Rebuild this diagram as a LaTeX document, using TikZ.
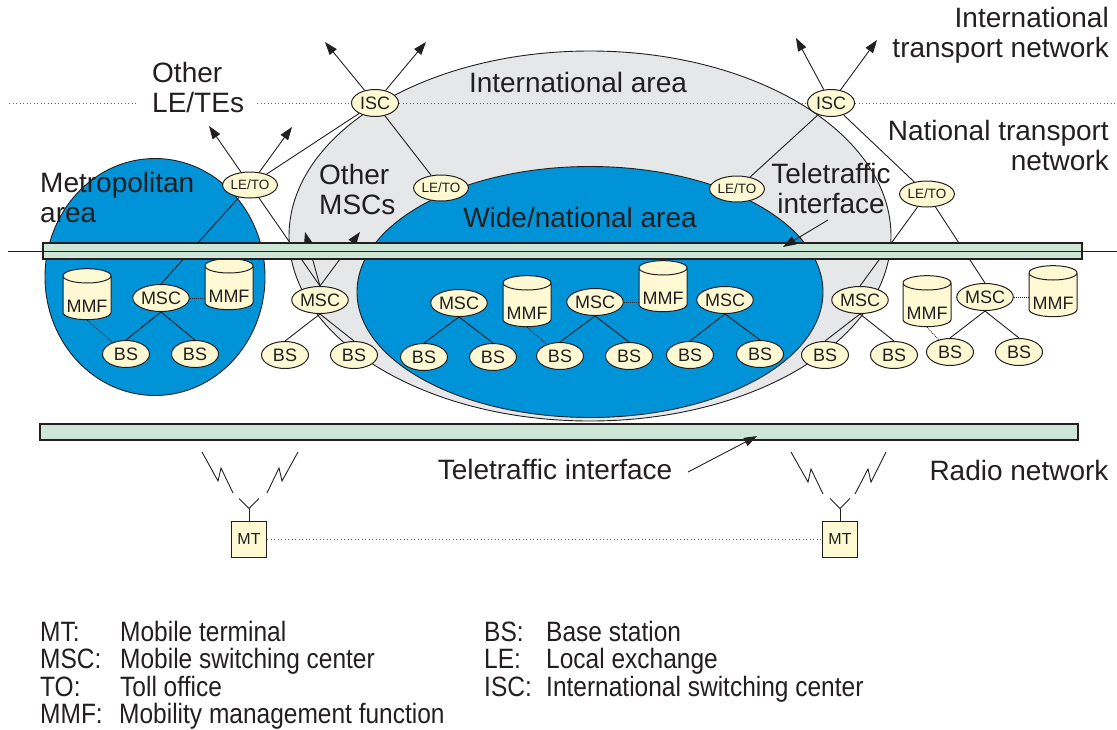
\documentclass[tikz,border=0pt]{standalone}
\usepackage{fontspec}
\setmainfont{Liberation Sans}
\newfontfamily\legendfont[FakeStretch=0.875]{Liberation Sans}
\usetikzlibrary{shapes.geometric,arrows.meta}
\definecolor{ink}{HTML}{231F20}
\definecolor{netblue}{HTML}{0093D7}
\definecolor{areagray}{HTML}{E6E7E8}
\definecolor{barfill}{HTML}{CDE6D5}
\definecolor{nodefill}{HTML}{FFF9D3}
\pgfdeclarelayer{areas}
\pgfdeclarelayer{wires}
\pgfsetlayers{areas,wires,main}
\begin{document}
\begin{tikzpicture}[x=1pt,y=-1pt,
  unit/.style={ellipse, draw=ink, fill=nodefill, line width=1pt, inner sep=0pt,
    minimum width=47pt, minimum height=27pt, text=ink,
    font=\fontsize{18}{18}\selectfont},
  exch/.style={unit, minimum width=48pt, minimum height=26pt,
    font=\fontsize{13.5}{13.5}\selectfont},
  store/.style={cylinder, shape border rotate=90, aspect=0.35, draw=ink,
    fill=nodefill, line width=1pt, inner sep=0pt, minimum width=48pt,
    minimum height=50pt, text=ink, text height=29pt, text depth=0pt,
    font=\fontsize{18}{18}\selectfont},
  term/.style={rectangle, draw=ink, fill=nodefill, line width=1pt, inner sep=0pt,
    minimum width=35pt, minimum height=36pt, text=ink,
    font=\fontsize{16}{16}\selectfont},
  link/.style={draw=ink, line width=0.9pt},
  uplink/.style={link, -{Triangle[length=13pt,width=9pt]}},
  mgmt/.style={draw=ink, line width=0.8pt, dash pattern=on 1pt off 1pt},
  refline/.style={draw=ink!70, line width=0.8pt, dash pattern=on 1pt off 2.5pt},
  area/.style={draw=ink, line width=0.9pt},
  bar/.style={draw=ink, fill=barfill, line width=1.2pt},
  label/.style={text=ink, inner sep=0pt, font=\fontsize{28}{30}\selectfont},
  legend/.style={text=ink, inner sep=0pt, anchor=base west,
    font=\legendfont\fontsize{28}{28}\selectfont}
]
\useasboundingbox (0,0) rectangle (1117,729);

% switching exchanges
\node[unit] (iscL) at (375,103) {ISC};
\node[unit] (iscR) at (831,103) {ISC};
\node[exch] (letoM) at (250,185) {LE/TO};
\node[exch] (letoA) at (441,188) {LE/TO};
\node[exch] (letoB) at (737,189) {LE/TO};
\node[exch] (letoR) at (927,194) {LE/TO};

% mobile switching centers
\node[unit] (mscM) at (161,298) {MSC};
\node[unit] (mscO) at (320,300) {MSC};
\node[unit] (mscA) at (459,303) {MSC};
\node[unit] (mscB) at (595,302) {MSC};
\node[unit] (mscC) at (725,300) {MSC};
\node[unit] (mscR) at (860,300) {MSC};
\node[unit] (mscS) at (985,297) {MSC};

% base stations
\node[unit] (bs1) at (126,354) {BS};
\node[unit] (bs2) at (195,354) {BS};
\node[unit] (bs3) at (285,355) {BS};
\node[unit] (bs4) at (354,355) {BS};
\node[unit] (bs5) at (424,357) {BS};
\node[unit] (bs6) at (493,357) {BS};
\node[unit] (bs7) at (560,356) {BS};
\node[unit] (bs8) at (629,356) {BS};
\node[unit] (bs9) at (690,355) {BS};
\node[unit] (bs10) at (760,354) {BS};
\node[unit] (bs11) at (825,355) {BS};
\node[unit] (bs12) at (894,355) {BS};
\node[unit] (bs13) at (950,352) {BS};
\node[unit] (bs14) at (1019,352) {BS};

% mobility management databases
\node[store] (mmf1) at (87,298) {MMF};
\node[store] (mmf2) at (229,288) {MMF};
\node[store] (mmf3) at (527,305) {MMF};
\node[store] (mmf4) at (663,290) {MMF};
\node[store] (mmf5) at (927,305) {MMF};
\node[store] (mmf6) at (1053,295) {MMF};

% mobile terminals
\node[term] (mtL) at (249,539) {MT};
\node[term] (mtR) at (840,539) {MT};

% free ends of the outgoing trunks
\coordinate (iscLa) at (325,42);
\coordinate (iscLb) at (426,42);
\coordinate (iscRa) at (796,38);
\coordinate (iscRb) at (877,40);
\coordinate (letoMa) at (209,126);
\coordinate (letoMb) at (292,127);
\coordinate (mscOa) at (305,232);
\coordinate (mscOb) at (360,232);

% service areas
\begin{pgfonlayer}{areas}
  \draw[area, fill=areagray] (590,236) ellipse [x radius=301, y radius=185];
  \draw[area, fill=netblue] (590,292) ellipse [x radius=233, y radius=125.5];
  \draw[area, fill=netblue] (155,277) ellipse [x radius=110, y radius=118.5];
\end{pgfonlayer}

% trunks and access links
\begin{pgfonlayer}{wires}
  \draw[uplink] (iscL) -- (iscLa);
  \draw[uplink] (iscL) -- (iscLb);
  \draw[uplink] (iscR) -- (iscRa);
  \draw[uplink] (iscR) -- (iscRb);
  \draw[uplink] (letoM) -- (letoMa);
  \draw[uplink] (letoM) -- (letoMb);
  \draw[uplink] (mscO.north) -- (mscOa);
  \draw[uplink] (mscO.north) -- (mscOb);
  \draw[link] (iscL) -- (letoM);
  \draw[link] (iscL) -- (letoA);
  \draw[link] (iscR) -- (letoB);
  \draw[link] (iscR) -- (letoR);
  \draw[link] (letoM) -- (mscM.north);
  \draw[link] (letoM) -- (mscO.north);
  \draw[link] (letoR) -- (mscR.north);
  \draw[link] (letoR) -- (mscS.north);
  \foreach \m/\a/\b in {mscM/bs1/bs2, mscO/bs3/bs4, mscA/bs5/bs6,
      mscB/bs7/bs8, mscC/bs9/bs10, mscR/bs11/bs12, mscS/bs13/bs14} {
    \draw[link] (\m.south) -- (\a.north);
    \draw[link] (\m.south) -- (\b.north);
  }
  \draw[mgmt] (mscM.east) -- (mscM.east -| mmf2.west);
  \draw[mgmt] (mscB.east) -- (mscB.east -| mmf4.west);
  \draw[mgmt] (mscS.east) -- (mscS.east -| mmf6.west);
  \draw[mgmt] (mmf1.south) -- (bs1);
  \draw[mgmt] (mmf3.south) -- (bs7);
  \draw[mgmt] (mmf5.south) -- (bs13);
  \draw[refline] (mtL) -- (mtR);
\end{pgfonlayer}

% transport level boundary
\draw[refline] (9,103) -- (138,103);
\draw[refline] (257,103) -- (iscL.west);
\draw[refline] (iscL.east) -- (iscR.west);
\draw[refline] (iscR.east) -- (1117,103);

% teletraffic interfaces
\draw[bar] (43,243) rectangle (1082,259);
\draw[link] (8,251) -- (1117,251);
\draw[bar] (40,424) rectangle (1078,440);
\coordinate (ttUfrom) at (828,220);
\coordinate (ttUto) at (783,247);
\coordinate (ttLfrom) at (688,472);
\coordinate (ttLto) at (757,436);
\draw[link, -{Triangle[length=13pt,width=9pt]}] (ttUfrom) -- (ttUto);
\draw[link, -{Triangle[length=13pt,width=9pt]}] (ttLfrom) -- (ttLto);

% antennas and radio paths
\foreach \t in {mtL, mtR} {
  \draw[link] (\t.north) -- ++(0,-12) coordinate (tip-\t);
  \draw[link] (tip-\t) -- ++(-10,-10);
  \draw[link] (tip-\t) -- ++(10,-10);
}
\draw[link] (202,452) -- (218,481) -- (221,468) -- (233,493);
\draw[link] (298,452) -- (282,481) -- (279,468) -- (267,493);
\draw[link] (791,452) -- (808,482) -- (811,469) -- (823,494);
\draw[link] (886,452) -- (871,482) -- (868,469) -- (855,494);

% area and network labels
\node[label, anchor=west, align=left] (tOtherLE) at (152,87) {Other\\LE/TEs};
\node[label] (tIntl) at (578,82) {International area};
\node[label, anchor=east, align=right] (tIntlNet) at (1109,35) {International\\transport network};
\node[label, anchor=east, align=right] (tNatNet) at (1109,145) {National transport\\network};
\node[label, anchor=west, align=left] (tMetro) at (40,197) {Metropolitan\\area};
\node[label, anchor=west, align=left] (tOtherMSC) at (319,189) {Other\\MSCs};
\node[label] (tWide) at (580,217) {Wide/national area};
\node[label, align=center] (tTTU) at (831,188) {Teletraffic\\interface};
\node[label] (tTTL) at (555,469) {Teletraffic interface};
\node[label] (tRadio) at (1019,470) {Radio network};

% abbreviations
\node[legend] (k1) at (40,641) {MT:};
\node[legend] (v1) at (120,641) {Mobile terminal};
\node[legend] (k2) at (40,668.5) {MSC:};
\node[legend] (v2) at (120,668.5) {Mobile switching center};
\node[legend] (k3) at (40,696) {TO:};
\node[legend] (v3) at (120,696) {Toll office};
\node[legend] (k4) at (40,723) {MMF:};
\node[legend] (v4) at (119,723) {Mobility management function};
\node[legend] (k5) at (484,641) {BS:};
\node[legend] (v5) at (546,641) {Base station};
\node[legend] (k6) at (484,668.5) {LE:};
\node[legend] (v6) at (546,668.5) {Local exchange};
\node[legend] (k7) at (484,696) {ISC:};
\node[legend] (v7) at (546,696) {International switching center};
\end{tikzpicture}
\end{document}
